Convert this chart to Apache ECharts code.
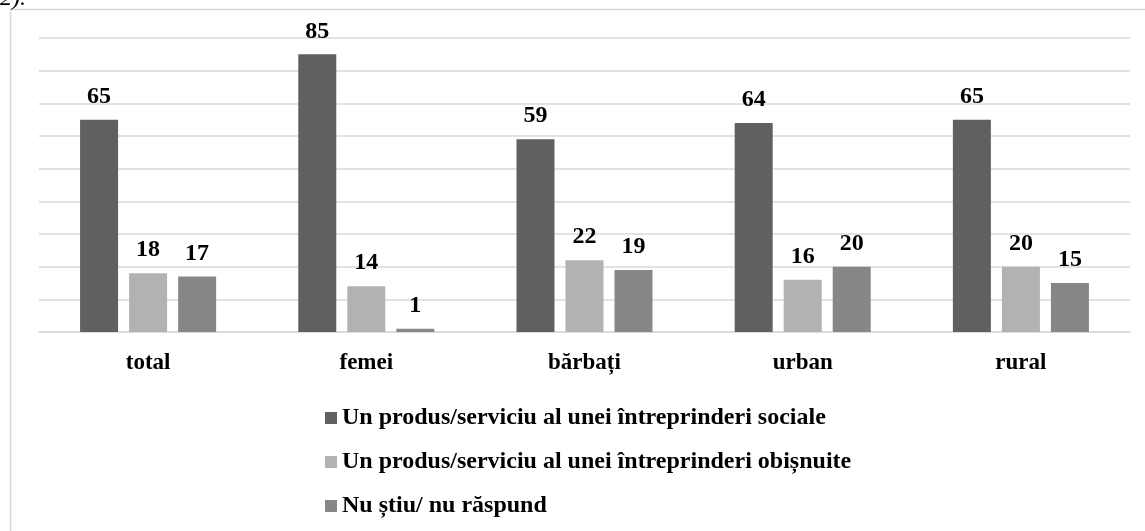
<!DOCTYPE html>
<html>
<head>
<meta charset="utf-8">
<script src="https://cdn.jsdelivr.net/npm/echarts@6/dist/echarts.min.js"></script>
<style>
html, body { margin: 0; padding: 0; background: #fff; }
#chart { width: 1145px; height: 531px; }
</style>
</head>
<body>
<div id="chart"></div>
<script>
// categorii si valori (procente)
var categories = ['total', 'femei', 'bărbați', 'urban', 'rural'];
var seriesNames = [
	'Un produs/serviciu al unei întreprinderi sociale',
	'Un produs/serviciu al unei întreprinderi obișnuite',
	'Nu știu/ nu răspund'
];
var sociale = [65, 85, 59, 64, 65];
var obisnuite = [18, 14, 22, 16, 20];
var nuStiu = [17, 1, 19, 20, 15];
var colors = ['#606060', '#b2b2b2', '#878787'];

var fontName = '"Liberation Serif", "Times New Roman", serif';

function makeSeries(name, data, color){
	return {
		name: name,
		type: 'bar',
		data: data,
		barWidth: 38,
		barGap: '29%',
		itemStyle: { color: color },
		label: {
			show: true,
			position: 'top',
			distance: 11,
			fontFamily: fontName,
			fontWeight: 'bold',
			fontSize: 24,
			color: '#000'
		}
	};
}

var chart = echarts.init(document.getElementById('chart'));
chart.setOption({
	animation: false,
	textStyle: { fontFamily: fontName },
	color: colors,
	graphic: [
		{
			type: 'rect',
			shape: { x: 10.5, y: 9.5, width: 1300, height: 700 },
			style: { fill: 'none', stroke: '#d9d9d9', lineWidth: 1.5 },
			silent: true
		},
		{
			type: 'text',
			left: 0,
			top: -13,
			style: { text: '2).', font: 'italic 24px ' + fontName, fill: '#000' }
		}
	],
	grid: { left: 39, right: 15, top: 38, bottom: 199 },
	legend: {
		orient: 'vertical',
		left: 320,
		top: 401,
		itemWidth: 12,
		itemHeight: 12,
		itemGap: 20,
		icon: 'rect',
		textStyle: { fontFamily: fontName, fontWeight: 'bold', fontSize: 24, color: '#000' },
		data: seriesNames
	},
	xAxis: {
		type: 'category',
		data: categories,
		axisLine: { lineStyle: { color: '#d9d9d9', width: 1.5 } },
		axisTick: { show: false },
		axisLabel: {
			margin: 20,
			fontFamily: fontName,
			fontWeight: 'bold',
			fontSize: 23,
			color: '#000'
		}
	},
	yAxis: {
		type: 'value',
		min: 0,
		max: 90,
		interval: 10,
		axisLabel: { show: false },
		axisLine: { show: false },
		axisTick: { show: false },
		splitLine: { lineStyle: { color: '#d9d9d9', width: 1.5 } }
	},
	series: [
		makeSeries(seriesNames[0], sociale, colors[0]),
		makeSeries(seriesNames[1], obisnuite, colors[1]),
		makeSeries(seriesNames[2], nuStiu, colors[2])
	]
});
</script>
</body>
</html>
